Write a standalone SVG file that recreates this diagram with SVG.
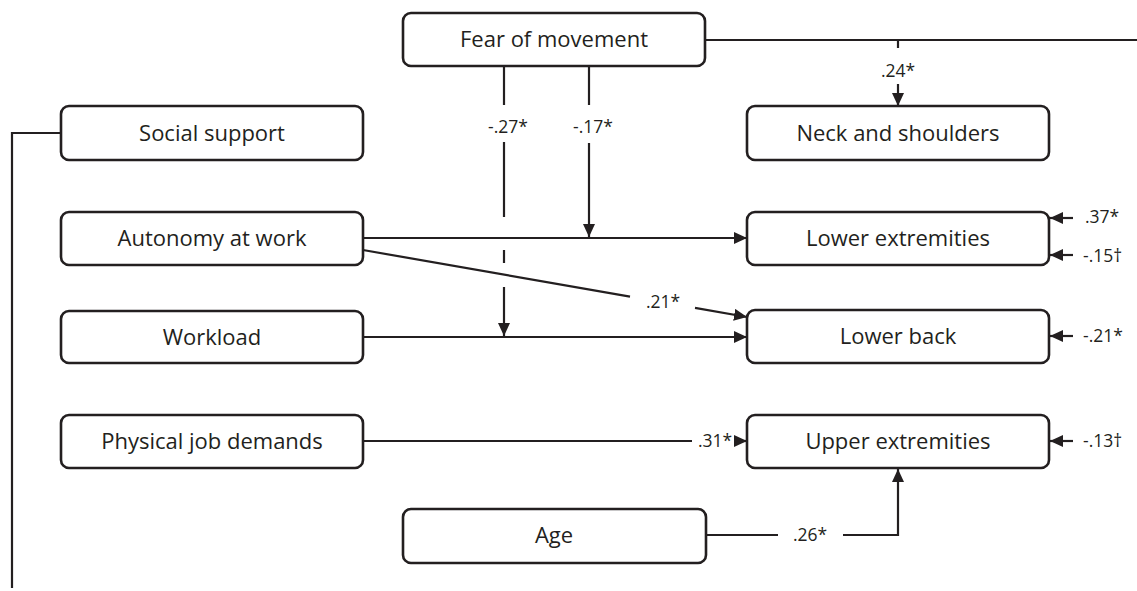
<svg xmlns="http://www.w3.org/2000/svg" width="1137" height="591" viewBox="0 0 1137 591">
<style>
.box{fill:#fff;stroke:#231f20;stroke-width:2.6}
.t{font-family:"Open Sans","Liberation Sans",sans-serif;font-size:22px;fill:#231f20;text-anchor:middle}
.l{font-family:"Open Sans","Liberation Sans",sans-serif;font-size:17.5px;fill:#231f20}
.c{fill:none;stroke:#231f20;stroke-width:2.2}
</style>
<defs>
<marker id="ah" markerUnits="userSpaceOnUse" markerWidth="14" markerHeight="12" refX="13" refY="6" orient="auto">
<path d="M0,0 L13,6 L0,12 Z" fill="#231f20"/>
</marker>
</defs>
<rect width="1137" height="591" fill="#fff"/>
<g id="connectors">
<polyline class="c" points="61,133 12,133 12,588"/>
<line class="c" x1="705" y1="40" x2="1137" y2="40"/>
<line class="c" x1="898" y1="40" x2="898" y2="48"/>
<line class="c" x1="898" y1="84" x2="898" y2="106" marker-end="url(#ah)"/>
<line class="c" x1="504" y1="66" x2="504" y2="105"/>
<line class="c" x1="504" y1="142" x2="504" y2="217"/>
<line class="c" x1="504" y1="250" x2="504" y2="263"/>
<line class="c" x1="504" y1="287" x2="504" y2="336" marker-end="url(#ah)"/>
<line class="c" x1="589" y1="66" x2="589" y2="105"/>
<line class="c" x1="589" y1="143" x2="589" y2="237" marker-end="url(#ah)"/>
<line class="c" x1="363" y1="238" x2="747" y2="238" marker-end="url(#ah)"/>
<line class="c" x1="363" y1="250" x2="630" y2="296.6"/>
<line class="c" x1="695" y1="307.9" x2="747" y2="317" marker-end="url(#ah)"/>
<line class="c" x1="363" y1="337" x2="747" y2="337" marker-end="url(#ah)"/>
<line class="c" x1="363" y1="441" x2="692" y2="441"/>
<line class="c" x1="737" y1="441" x2="747" y2="441" marker-end="url(#ah)"/>
<line class="c" x1="706" y1="535" x2="778" y2="535"/>
<polyline class="c" points="843,535 898,535 898,469" marker-end="url(#ah)"/>
<line class="c" x1="1073" y1="218" x2="1050" y2="218" marker-end="url(#ah)"/>
<line class="c" x1="1073" y1="255" x2="1050" y2="255" marker-end="url(#ah)"/>
<line class="c" x1="1073" y1="336" x2="1050" y2="336" marker-end="url(#ah)"/>
<line class="c" x1="1073" y1="441" x2="1050" y2="441" marker-end="url(#ah)"/>
<text class="l" x="898" y="77" text-anchor="middle">.24*</text>
<text class="l" x="508" y="133" text-anchor="middle">-.27*</text>
<text class="l" x="593" y="133" text-anchor="middle">-.17*</text>
<text class="l" x="663" y="308" text-anchor="middle">.21*</text>
<text class="l" x="715" y="447" text-anchor="middle">.31*</text>
<text class="l" x="810" y="541" text-anchor="middle">.26*</text>
<text class="l" x="1085" y="223">.37*</text>
<text class="l" x="1083" y="262">-.15†</text>
<text class="l" x="1083" y="342">-.21*</text>
<text class="l" x="1083" y="447">-.13†</text>
</g>
<g id="fear"><rect class="box" x="403" y="13" width="302" height="53" rx="8"/><text class="t" x="554" y="47">Fear of movement</text></g>
<g id="social"><rect class="box" x="61" y="106" width="302" height="54" rx="8"/><text class="t" x="212" y="141">Social support</text></g>
<g id="autonomy"><rect class="box" x="61" y="212" width="302" height="53" rx="8"/><text class="t" x="212" y="246">Autonomy at work</text></g>
<g id="workload"><rect class="box" x="61" y="311" width="302" height="52" rx="8"/><text class="t" x="212" y="345">Workload</text></g>
<g id="physical"><rect class="box" x="61" y="415" width="302" height="53" rx="8"/><text class="t" x="212" y="449">Physical job demands</text></g>
<g id="age"><rect class="box" x="403" y="509" width="303" height="54" rx="8"/><text class="t" x="554" y="543">Age</text></g>
<g id="neck"><rect class="box" x="747" y="106" width="302" height="54" rx="8"/><text class="t" x="898" y="141">Neck and shoulders</text></g>
<g id="lowerext"><rect class="box" x="747" y="212" width="302" height="53" rx="8"/><text class="t" x="898" y="246">Lower extremities</text></g>
<g id="lowerback"><rect class="box" x="747" y="310" width="302" height="53" rx="8"/><text class="t" x="898" y="344">Lower back</text></g>
<g id="upperext"><rect class="box" x="747" y="415" width="302" height="53" rx="8"/><text class="t" x="898" y="449">Upper extremities</text></g>
</svg>
